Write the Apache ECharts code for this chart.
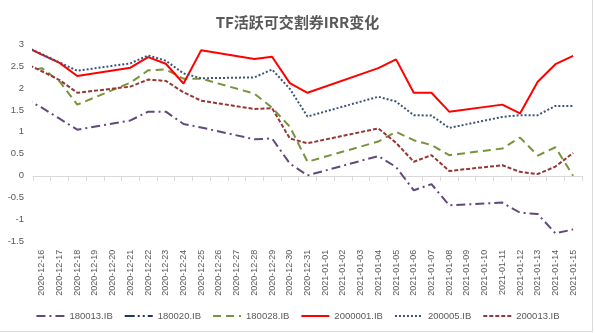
<!DOCTYPE html>
<html>
<head>
<meta charset="utf-8">
<script src="https://cdn.jsdelivr.net/npm/echarts@6/dist/echarts.min.js"></script>
<style>
html,body{margin:0;padding:0;background:#fff;}
#chart{width:595px;height:333px;}
</style>
</head>
<body>
<div id="chart"></div>
<script>
const categories = ['2020-12-15','2020-12-16','2020-12-17','2020-12-18','2020-12-19','2020-12-20','2020-12-21','2020-12-22','2020-12-23','2020-12-24','2020-12-25','2020-12-26','2020-12-27','2020-12-28','2020-12-29','2020-12-30','2020-12-31','2021-01-01','2021-01-02','2021-01-03','2021-01-04','2021-01-05','2021-01-06','2021-01-07','2021-01-08','2021-01-09','2021-01-10','2021-01-11','2021-01-12','2021-01-13','2021-01-14','2021-01-15'];
const yTicks = [-1.5, -1, -0.5, 0, 0.5, 1, 1.5, 2, 2.5, 3];

const s180013 = [1.77,1.55,1.30,1.05,null,null,1.26,1.46,1.46,1.18,1.10,null,null,0.83,0.85,0.28,0.01,null,null,null,0.45,0.20,-0.33,-0.19,-0.67,null,null,-0.61,-0.84,-0.87,-1.31,-1.22];
const s180020 = [null,null,null,null,null,null,null,null,null,null,null,null,null,null,null,null,null,null,null,null,null,null,null,null,null,null,null,null,null,null,null,null];
const s180028 = [2.37,2.45,2.15,1.62,null,null,2.12,2.40,2.42,2.21,2.21,null,null,1.87,1.55,1.12,0.32,null,null,null,0.78,1.00,0.81,0.70,0.47,null,null,0.62,0.87,0.46,0.65,0.00];
const s2000001 = [2.95,2.76,2.57,2.27,null,null,2.46,2.70,2.55,2.10,2.86,null,null,2.66,2.71,2.11,1.89,null,null,null,2.45,2.65,1.89,1.89,1.46,null,null,1.62,1.42,2.14,2.54,2.73];
const s200005 = [2.95,2.77,2.58,2.39,null,null,2.56,2.74,2.62,2.33,2.22,null,null,2.24,2.42,1.98,1.35,null,null,null,1.80,1.69,1.38,1.37,1.09,null,null,1.34,1.38,1.38,1.59,1.59];
const s200013 = [2.57,2.38,2.18,1.89,null,null,2.03,2.19,2.16,1.90,1.71,null,null,1.52,1.54,0.85,0.74,null,null,null,1.08,0.75,0.32,0.47,0.11,null,null,0.24,0.09,0.04,0.21,0.52];

const seriesNames = ['180013.IB','180020.IB','180028.IB','2000001.IB','200005.IB','200013.IB'];
const seriesData = [s180013, s180020, s180028, s2000001, s200005, s200013];
const seriesColors = ['#604a7b','#1f3864','#77933c','#ff0000','#3b5478','#953735'];
const seriesDash = [[9,4,2,4],[10,3,2,3,2,3],[8,5],'solid',[2,2],[4,2]];

const chart = echarts.init(document.getElementById('chart'));
const txt = '#595959';
const font = 'Liberation Sans';

chart.setOption({
  animation: false,
  backgroundColor: '#fff',
  title: {
    text: 'TF活跃可交割券IRR变化',
    left: 'center',
    top: 10,
    textStyle: {fontFamily: 'Noto Sans CJK SC', fontSize: 15, fontWeight: 'bold', color: txt}
  },
  grid: {left: 33, right: 13, top: 44, bottom: 91.3, containLabel: false},
  legend: {
    bottom: 7,
    left: 'center',
    itemWidth: 28,
    itemHeight: 10,
    itemGap: 11,
    itemStyle: {opacity: 0, borderWidth: 0},
    textStyle: {fontFamily: font, fontSize: 9.5, color: txt},
    data: seriesNames
  },
  xAxis: [
    {
      type: 'category', data: categories, min: 1, boundaryGap: true, position: 'bottom',
      axisLine: {show: false, onZero: false}, axisTick: {show: false},
      axisLabel: {rotate: 90, interval: 0, margin: 8, fontFamily: font, fontSize: 9, color: txt},
      splitLine: {show: false}
    },
    {
      type: 'category', data: categories, min: 1, boundaryGap: true, position: 'bottom',
      axisLine: {show: true, onZero: true, lineStyle: {color: '#d9d9d9', width: 1}},
      axisTick: {show: true, length: 5, interval: 0, lineStyle: {color: '#d9d9d9'}},
      axisLabel: {show: false}, splitLine: {show: false}
    }
  ],
  yAxis: {
    type: 'value', min: yTicks[0], max: yTicks[yTicks.length - 1], interval: 0.5,
    axisLine: {show: false}, axisTick: {show: false}, splitLine: {show: false},
    axisLabel: {margin: 9, fontFamily: font, fontSize: 9.5, color: txt}
  },
  graphic: [
    {type: 'line', shape: {x1: 592.5, y1: 0, x2: 592.5, y2: 331.5}, style: {stroke: '#d9d9d9', lineWidth: 1}, silent: true},
    {type: 'line', shape: {x1: 0, y1: 331.5, x2: 592.5, y2: 331.5}, style: {stroke: '#d9d9d9', lineWidth: 1}, silent: true}
  ],
  series: seriesNames.map((name, i) => ({
    name: name,
    type: 'line',
    xAxisIndex: 0,
    data: seriesData[i],
    connectNulls: true,
    symbol: 'none',
    showSymbol: false,
    clip: true,
    color: seriesColors[i],
    lineStyle: {color: seriesColors[i], width: 2, type: seriesDash[i]}
  }))
});
</script>
</body>
</html>
